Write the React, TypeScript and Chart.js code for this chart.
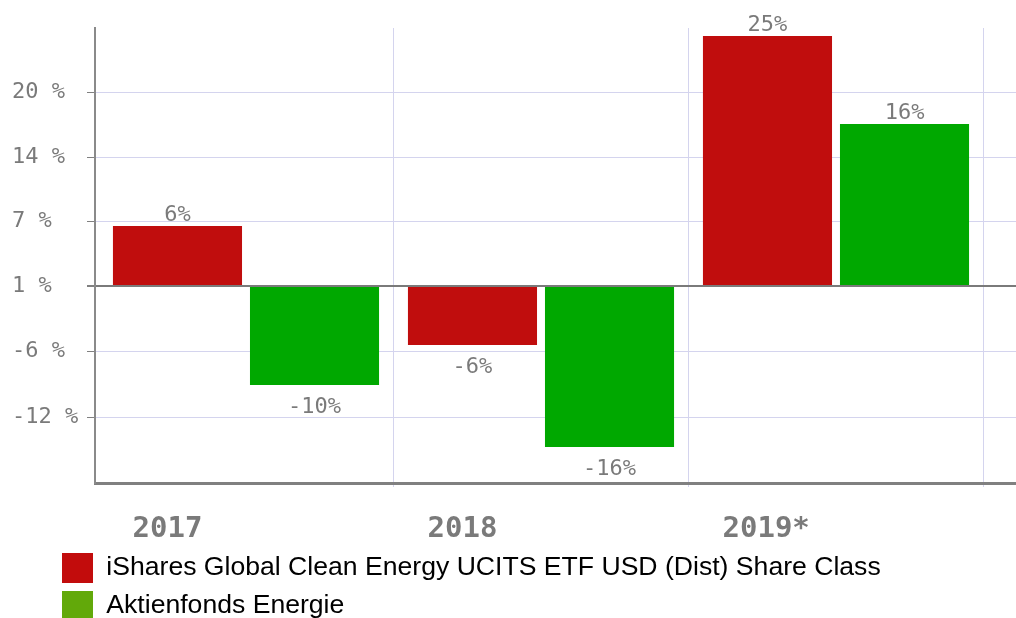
import React, { useEffect, useRef } from 'react';
import { Chart, registerables } from 'chart.js';

Chart.register(...registerables);

// ---- data ----
const categories = ['2017', '2018', '2019*'];
const seriesNames = [
  'iShares Global Clean Energy UCITS ETF USD (Dist) Share Class',
  'Aktienfonds Energie',
];
const etfValues = [6.0, -5.9, 25.0];
const fundValues = [-9.9, -16.1, 16.2];
const yTickValues = [19.35, 12.9, 6.45, 0, -6.55, -13.1];
const yTickLabels = ['20 %', '14 %', '7 %', '1 %', '-6 %', '-12 %'];
const yMin = -19.7;
const yMax = 25.8;

// ---- styles ----
const barColors = ['#C00D0D', '#00A800'];
const legendColors = ['#C20C0C', '#62A90A'];
const gridColor = '#D4D4EE';
const axisGray = '#808080';
const textGray = '#7A7A7A';

const valueLabels = {
  id: 'valueLabels',
  afterDatasetsDraw(chart: any) {
    const ctx = chart.ctx;
    ctx.save();
    ctx.font = '22px "DejaVu Sans Mono"';
    ctx.fillStyle = textGray;
    ctx.textAlign = 'center';
    ctx.textBaseline = 'alphabetic';
    chart.data.datasets.forEach((ds: any, di: number) => {
      const meta = chart.getDatasetMeta(di);
      meta.data.forEach((bar: any, i: number) => {
        const v = ds.data[i].y;
        const txt = Math.round(v) + '%';
        const y = v >= 0 ? bar.y - 5 : bar.y + 28;
        ctx.fillText(txt, bar.x, y);
      });
    });
    ctx.restore();
  },
};

// moves the legend block so that its swatches start under the y-axis labels
const legendIndent = {
  id: 'legendIndent',
  afterLayout(chart: any) {
    if (chart.legend) chart.legend.left = 54;
  },
};

export default function App() {
  const ref = useRef<HTMLCanvasElement | null>(null);

  useEffect(() => {
    if (!ref.current) return;
    const xMin = -151 / 295;
    const xMax = xMin + 921 / 295;
    const chart = new Chart(ref.current, {
      type: 'bar',
      data: {
        datasets: [
          {
            label: seriesNames[0],
            data: categories.map((_, i) => ({ x: i, y: etfValues[i] })),
            backgroundColor: barColors[0],
            borderWidth: 0,
          },
          {
            label: seriesNames[1],
            data: categories.map((_, i) => ({ x: i, y: fundValues[i] })),
            backgroundColor: barColors[1],
            borderWidth: 0,
          },
        ],
      },
      options: {
        animation: false,
        responsive: false,
        devicePixelRatio: 1,
        events: [],
        layout: { padding: { left: 12, top: 28, right: 0, bottom: 0 } },
        datasets: {
          bar: { categoryPercentage: 0.929, barPercentage: 0.942 },
        },
        scales: {
          x: {
            type: 'linear',
            min: xMin,
            max: xMax,
            offset: false,
            afterBuildTicks: (scale: any) => {
              scale.ticks = categories.map((_, i) => ({ value: i + 0.5 }));
            },
            afterFit: (scale: any) => {
              scale.height = 62;
              scale.paddingLeft = 0;
              scale.paddingRight = 0;
            },
            grid: {
              offset: false,
              color: gridColor,
              lineWidth: 1,
              tickLength: 4,
              tickColor: gridColor,
            },
            border: { color: axisGray, width: 3 },
            ticks: {
              autoSkip: false,
              maxRotation: 0,
              minRotation: 0,
              align: 'start',
              labelOffset: -261,
              padding: 25,
              color: textGray,
              font: { family: '"DejaVu Sans Mono"', size: 29, weight: 'bold' },
              callback: (_v: any, i: number) => categories[i] ?? '',
            },
          },
          y: {
            type: 'linear',
            min: yMin,
            max: yMax,
            afterBuildTicks: (scale: any) => {
              scale.ticks = yTickValues.map((v) => ({ value: v }));
            },
            afterFit: (scale: any) => {
              scale.width = 83;
              scale.paddingTop = 0;
              scale.paddingBottom = 0;
            },
            grid: {
              color: (c: any) => (c.tick && c.tick.value === 0 ? '#7A7A7A' : gridColor),
              lineWidth: (c: any) => (c.tick && c.tick.value === 0 ? 2 : 1),
              tickColor: axisGray,
              tickLength: 8,
            },
            border: { color: '#8A8A8A', width: 2 },
            ticks: {
              crossAlign: 'far',
              padding: 10,
              color: textGray,
              font: { family: '"DejaVu Sans Mono"', size: 22 },
              callback: (_v: any, i: number) => yTickLabels[i] ?? '',
            },
          },
        },
        plugins: {
          tooltip: { enabled: false },
          legend: {
            position: 'bottom',
            align: 'start',
            labels: {
              boxWidth: 31,
              boxHeight: 30,
              padding: 8,
              color: '#000',
              font: { family: '"Liberation Sans", Arial', size: 26.6 },
              generateLabels: () =>
                seriesNames.map((n, i) => ({
                  text: n,
                  fillStyle: legendColors[i],
                  strokeStyle: legendColors[i],
                  lineWidth: 0,
                  hidden: false,
                  datasetIndex: i,
                })),
            },
          },
        },
      } as any,
      plugins: [valueLabels, legendIndent],
    });
    return () => chart.destroy();
  }, []);

  return (
    <div
      style={{
        position: 'fixed',
        left: 0,
        top: 0,
        width: 1016,
        height: 618,
        overflow: 'hidden',
        background: '#fff',
      }}
    >
      <canvas ref={ref} width={1016} height={631} style={{ display: 'block' }} />
    </div>
  );
}
